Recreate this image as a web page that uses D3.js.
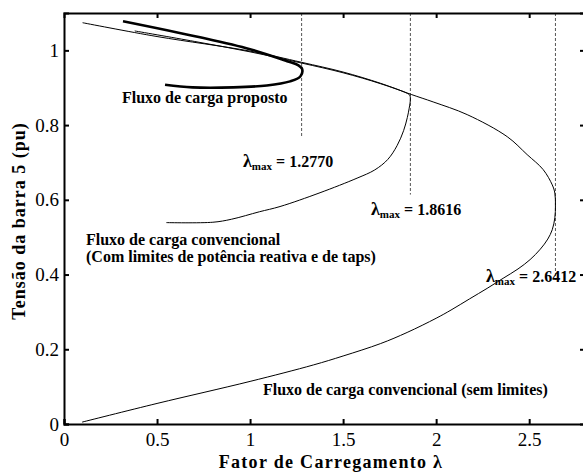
<!DOCTYPE html>
<html>
<meta charset="utf-8">
<style>
body { margin: 0; background: #fff; }
.curve { fill: none; stroke: #000; stroke-linejoin: round; }
.limit { stroke: #555; stroke-width: 1; stroke-dasharray: 3,2; }
</style>
<body>
<script src="https://cdn.jsdelivr.net/npm/d3@7"></script>
<script>

// conventional load flow without limits (upper branch, nose, lower branch)
var semLimitesLambda = [0.10, 0.50, 1.00, 1.277, 1.50, 1.70, 1.866, 1.984, 2.167, 2.382, 2.489, 2.575, 2.624, 2.638, 2.6412,
                        2.638, 2.624, 2.60, 2.56, 2.505, 2.44, 2.36, 2.274, 2.18, 2.08, 2.00, 1.844, 1.70, 1.50, 1.34, 1.00, 0.50, 0.097];
var semLimitesV      = [1.074, 1.037, 0.998, 0.968, 0.942, 0.912, 0.882, 0.862, 0.828, 0.769, 0.721, 0.681, 0.640, 0.618, 0.585,
                        0.552, 0.520, 0.495, 0.468, 0.440, 0.415, 0.390, 0.363, 0.335, 0.305, 0.283, 0.245, 0.215, 0.182, 0.158, 0.114, 0.055, 0.005];

// conventional load flow with reactive power and tap limits
var comLimitesLambda = [0.38, 0.70, 1.00, 1.277, 1.50, 1.70, 1.84, 1.858, 1.8616, 1.855, 1.845, 1.825, 1.79, 1.74, 1.67, 1.575, 1.376, 1.161, 1.05, 0.90, 0.80, 0.55];
var comLimitesV      = [1.052, 1.024, 0.996, 0.966, 0.940, 0.911, 0.886, 0.880, 0.870, 0.845, 0.820, 0.785, 0.745, 0.708, 0.680, 0.658, 0.619, 0.582, 0.568, 0.548, 0.540, 0.539];

// proposed load flow
var propostoLambda = [0.317, 0.731, 1.00, 1.199, 1.26, 1.28, 1.27, 1.215, 1.09, 0.91, 0.69, 0.543];
var propostoV      = [1.078, 1.035, 1.003, 0.971, 0.960, 0.950, 0.930, 0.917, 0.906, 0.901, 0.901, 0.908];

// maximum loading points (dashed verticals)
var lambdaMax = [1.2770, 1.8616, 2.6412];
var lambdaMaxBottom = [0.767, 0.614, 0.386];

var xTicks = [0, 0.5, 1, 1.5, 2, 2.5];
var yTicks = [0, 0.2, 0.4, 0.6, 0.8, 1];

var FONT = "Liberation Serif";
var W = 583, H = 472;
var margin = {left: 64, top: 13};
var plotW = 521, plotH = 411;

var svg = d3.select("body").append("svg")
    .attr("width", W)
    .attr("height", H);

var x = d3.scaleLinear().domain([0, 2.8]).range([margin.left, margin.left + plotW]);
var y = d3.scaleLinear().domain([0, 1.1]).range([margin.top + plotH, margin.top]);

function pairs(a, b) {
  return a.map(function(v, i) { return [v, b[i]]; });
}

var line = d3.line()
    .x(function(d) { return x(d[0]); })
    .y(function(d) { return y(d[1]); })
    .curve(d3.curveCatmullRom.alpha(0.5));

// dashed verticals
svg.selectAll(".limit")
  .data(lambdaMax)
  .enter()
  .append("line")
  .attr("class", "limit")
  .attr("x1", function(d) { return x(d); })
  .attr("x2", function(d) { return x(d); })
  .attr("y1", y(1.1))
  .attr("y2", function(d, i) { return y(lambdaMaxBottom[i]); });

svg.append("path")
  .attr("class", "curve")
  .attr("stroke-width", 1)
  .attr("d", line(pairs(semLimitesLambda, semLimitesV)));

svg.append("path")
  .attr("class", "curve")
  .attr("stroke-width", 1)
  .attr("stroke", "#444")
  .attr("d", line(pairs(comLimitesLambda, comLimitesV)));

svg.append("path")
  .attr("class", "curve")
  .attr("stroke-width", 2.6)
  .attr("d", line(pairs(propostoLambda, propostoV)));

// axes
var xAxis = d3.axisBottom(x).tickValues(xTicks).tickSize(-5).tickPadding(9).tickFormat(d3.format("~g"));
var yAxis = d3.axisLeft(y).tickValues(yTicks).tickSize(-5).tickPadding(5).tickFormat(d3.format("~g"));
var xTop = d3.axisTop(x).tickValues(xTicks.slice(1)).tickSize(-5).tickFormat("");
var yRight = d3.axisRight(y).tickValues(yTicks.slice(1)).tickSize(-5).tickFormat("");

function styleAxis(g) {
  g.attr("font-family", null).attr("font-size", null);
  g.select(".domain").attr("stroke", "#000").attr("stroke-width", 2);
  g.selectAll(".tick line").attr("stroke", "#000").attr("stroke-width", 2);
  g.selectAll(".tick text")
    .style("font-family", FONT)
    .style("font-size", "19px")
    .attr("fill", "#000");
}

svg.append("g").attr("transform", "translate(0," + y(0) + ")").call(xAxis).call(styleAxis);
svg.append("g").attr("transform", "translate(" + x(0) + ",0)").call(yAxis).call(styleAxis);
svg.append("g").attr("transform", "translate(0," + y(1.1) + ")").call(xTop).call(styleAxis);
svg.append("g").attr("transform", "translate(" + x(2.8) + ",0)").call(yRight).call(styleAxis);

// axis titles
svg.append("text")
  .style("font-family", FONT)
  .style("font-size", "18px")
  .style("font-weight", "bold")
  .style("letter-spacing", "1.3px")
  .attr("text-anchor", "middle")
  .attr("x", 331)
  .attr("y", 468)
  .text("Fator de Carregamento \u03bb");

svg.append("text")
  .style("font-family", FONT)
  .style("font-size", "18px")
  .style("font-weight", "bold")
  .style("letter-spacing", "1px")
  .attr("text-anchor", "middle")
  .attr("transform", "translate(25,221) rotate(-90)")
  .text("Tens\u00e3o da barra 5 (pu)");

// annotations
var notes = [
  {t: "Fluxo de carga proposto", x: 122, y: 103},
  {t: "Fluxo de carga convencional", x: 86, y: 245},
  {t: "(Com limites de pot\u00eancia reativa e de taps)", x: 86, y: 262},
  {t: "Fluxo de carga convencional (sem limites)", x: 263, y: 395}
];
svg.selectAll(".note")
  .data(notes)
  .enter()
  .append("text")
  .attr("class", "note")
  .style("font-family", FONT)
  .style("font-size", "16px")
  .style("font-weight", "bold")
  .attr("x", function(d) { return d.x; })
  .attr("y", function(d) { return d.y; })
  .text(function(d) { return d.t; });

var lamPos = [{x: 243, y: 167}, {x: 371, y: 215}, {x: 486, y: 282}];
lambdaMax.forEach(function(v, i) {
  var t = svg.append("text")
    .style("font-family", FONT)
    .style("font-size", "16px")
    .style("font-weight", "bold")
    .attr("x", lamPos[i].x).attr("y", lamPos[i].y);
  t.append("tspan").style("font-size", "18px").text("\u03bb");
  t.append("tspan").style("font-size", "11px").attr("dy", 3).text("max");
  t.append("tspan").attr("dy", -3).text(" = " + v.toFixed(4));
});

</script>
</body>
</html>
